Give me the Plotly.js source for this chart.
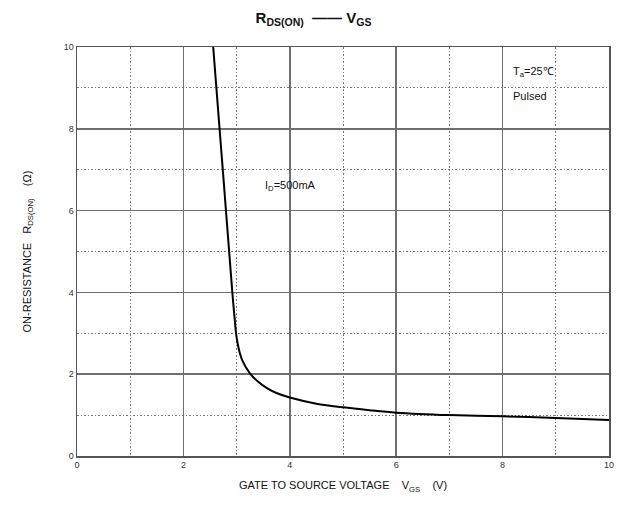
<!DOCTYPE html>
<html>
<head>
<meta charset="utf-8">
<script src="https://cdn.plot.ly/plotly-3.0.1.min.js"></script>
<style>html,body{margin:0;padding:0;background:#fff;}#chart{width:627px;height:507px;}</style>
</head>
<body>
<div id="chart"></div>
<script>
// Gate-source voltage (V)
const vgs = [2.56, 2.62, 2.68, 2.74, 2.80, 2.86, 2.92, 2.96, 2.99, 3.02, 3.06, 3.12, 3.25, 3.4, 3.57, 3.75, 4.0, 4.5, 5.0, 5.5, 6.0, 7.0, 8.0, 9.0, 10.0];
// On-resistance (ohm)
const rdson = [10, 9, 8, 7, 6, 5, 4, 3.4, 3.0, 2.75, 2.52, 2.3, 2.02, 1.82, 1.66, 1.54, 1.43, 1.28, 1.19, 1.12, 1.06, 1.0, 0.97, 0.93, 0.88];
const xTicks = [0, 2, 4, 6, 8, 10];
const yTicks = [0, 2, 4, 6, 8, 10];

const font = "Liberation Sans, Arial, sans-serif";

const trace = {
  x: vgs, y: rdson, type: 'scatter', mode: 'lines',
  line: {color: '#000', width: 2, shape: 'spline', smoothing: 0.8},
  hoverinfo: 'skip'
};

const axisCommon = {
  showline: true, linecolor: '#555', linewidth: 1.5, mirror: true,
  showgrid: true, gridcolor: '#6f6f6f', gridwidth: 1.5,
  zeroline: false, ticks: '',
  tickfont: {family: font, size: 9, color: '#333'},
  minor: {dtick: 1, showgrid: true, gridcolor: '#777', gridwidth: 1, griddash: '1.5px,2px', ticks: ''}
};

const layout = {
  width: 627, height: 507,
  margin: {l: 77, r: 18, t: 47, b: 51},
  paper_bgcolor: '#fff', plot_bgcolor: '#fff',
  showlegend: false,
  title: {text: '<b>R<sub>DS(ON)</sub>  —— V<sub>GS</sub></b>', font: {family: font, size: 15, color: '#111'}, x: 0.5, xanchor: 'center', y: 0.965, yanchor: 'middle'},
  xaxis: Object.assign({}, axisCommon, {
    range: [0, 10], tickvals: xTicks, ticktext: xTicks.map(String),
    title: {text: 'GATE TO SOURCE VOLTAGE    V<sub>GS</sub>    (V)', font: {family: font, size: 11, color: '#111'}, standoff: 12}
  }),
  yaxis: Object.assign({}, axisCommon, {
    range: [0, 10], tickvals: yTicks, ticktext: yTicks.map(String),
    title: {text: 'ON-RESISTANCE   R<sub>DS(ON)</sub>    (Ω)', font: {family: font, size: 11, color: '#111'}, standoff: 30}
  }),
  annotations: [
    {x: 8.15, y: 9.4, xref: 'x', yref: 'y', text: 'T<sub>a</sub>=25℃', showarrow: false, xanchor: 'left', font: {family: font, size: 11, color: '#111'}},
    {x: 8.15, y: 8.8, xref: 'x', yref: 'y', text: 'Pulsed', showarrow: false, xanchor: 'left', font: {family: font, size: 11, color: '#111'}},
    {x: 3.5, y: 6.6, xref: 'x', yref: 'y', text: 'I<sub>D</sub>=500mA', showarrow: false, xanchor: 'left', font: {family: font, size: 11, color: '#111'}}
  ]
};

Plotly.newPlot('chart', [trace], layout, {staticPlot: true, displayModeBar: false});
</script>
</body>
</html>
